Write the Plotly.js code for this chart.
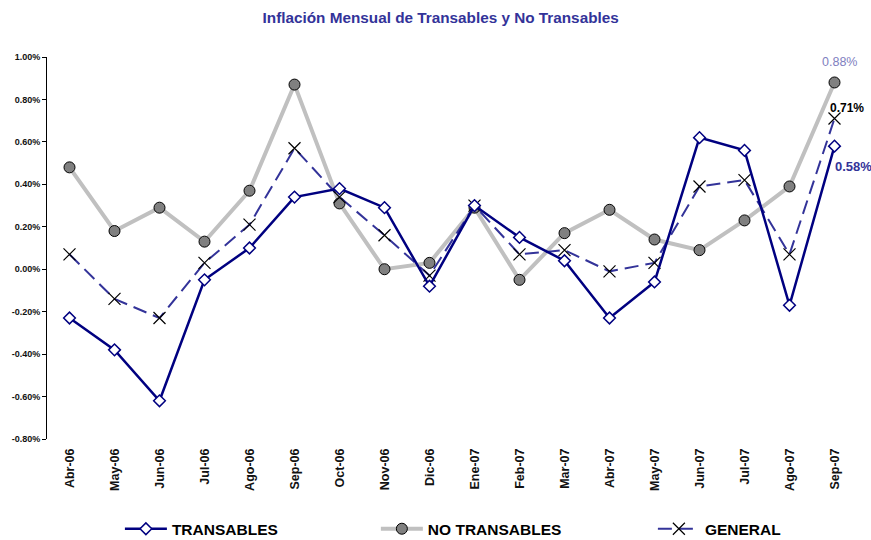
<!DOCTYPE html>
<html>
<head>
<meta charset="utf-8">
<script src="https://cdn.plot.ly/plotly-3.0.1.min.js"></script>
<style>html,body{margin:0;padding:0;background:#fff;}#chart{width:871px;height:540px;}</style>
</head>
<body>
<div id="chart"></div>
<script>
const months = ["Abr-06","May-06","Jun-06","Jul-06","Ago-06","Sep-06","Oct-06","Nov-06","Dic-06","Ene-07","Feb-07","Mar-07","Abr-07","May-07","Jun-07","Jul-07","Ago-07","Sep-07"];
const transables = [-0.23,-0.38,-0.62,-0.05,0.10,0.34,0.38,0.29,-0.08,0.30,0.15,0.04,-0.23,-0.06,0.62,0.56,-0.17,0.58];
const noTransables = [0.48,0.18,0.29,0.13,0.37,0.87,0.31,0.00,0.03,0.29,-0.05,0.17,0.28,0.14,0.09,0.23,0.39,0.88];
const general = [0.07,-0.14,-0.23,0.03,0.21,0.57,0.34,0.16,-0.03,0.30,0.07,0.09,-0.01,0.03,0.39,0.42,0.07,0.71];
const yTicks = [-0.8,-0.6,-0.4,-0.2,0,0.2,0.4,0.6,0.8,1.0];
const boundaries = months.map((m,i)=>i-0.5).concat([months.length-0.5]);

const sans = "Liberation Sans, Arial, sans-serif";
const last = months.length-1;

const traces = [
  {x: months, y: noTransables, name: "NO TRANSABLES", type: "scatter", mode: "lines+markers", legend: "legend2",
   line: {color: "#C0C0C0", width: 4},
   marker: {symbol: "circle", size: 11, color: "#808080", line: {color: "#000000", width: 1}}},
  {x: months, y: general, name: "GENERAL", type: "scatter", mode: "lines+markers", legend: "legend3",
   line: {color: "#333399", width: 2, dash: "14px,7px"},
   marker: {symbol: "x-thin-open", size: 12, color: "#000000", line: {color: "#000000", width: 1.2}}},
  {x: months, y: transables, name: "TRANSABLES", type: "scatter", mode: "lines+markers", legend: "legend",
   line: {color: "#000080", width: 2.5},
   marker: {symbol: "diamond", size: 9, color: "#FFFFFF", line: {color: "#000080", width: 1.5}}}
];

const fmt = v => v.toFixed(2) + "%";
const legendFont = {family: sans, size: 15.5, color: "#000000", weight: "bold"};
const legendBase = {orientation: "h", xanchor: "left", y: -0.236, yanchor: "middle", itemwidth: 42,
                    font: legendFont, bgcolor: "rgba(0,0,0,0)"};

const layout = {
  width: 871, height: 540,
  margin: {l: 47, r: 14, t: 57, b: 101, autoexpand: false},
  paper_bgcolor: "#FFFFFF", plot_bgcolor: "#FFFFFF",
  showlegend: true,
  title: {text: "Inflación Mensual de Transables y No Transables", x: 0.486, xref: "paper", xanchor: "center", y: 0.968, yanchor: "middle",
          font: {family: sans, size: 15.3, color: "#333399", weight: "bold"}},
  xaxis: {type: "category", categoryarray: months, range: [-0.5, months.length-0.5],
          showline: false, ticks: "", showgrid: false, zeroline: false,
          tickangle: -90, ticklabelstandoff: 6,
          tickfont: {family: sans, size: 12.5, color: "#111111", weight: "bold"}},
  xaxis2: {overlaying: "x", anchor: "free", position: 0.8/1.8, side: "bottom",
           range: [-0.5, months.length-0.5], tickvals: boundaries, showticklabels: false,
           ticks: "inside", ticklen: 4, tickcolor: "#000000", tickwidth: 1,
           showline: true, linecolor: "#000000", linewidth: 1, showgrid: false, zeroline: false},
  yaxis: {range: [-0.8, 1.0], tickvals: yTicks, ticktext: yTicks.map(fmt),
          showline: true, linecolor: "#000000", linewidth: 1, ticks: "outside", ticklen: 4, tickcolor: "#000000",
          showgrid: false, zeroline: false,
          tickfont: {family: sans, size: 9, color: "#111111", weight: "bold"}},
  legend: Object.assign({x: 0.09}, legendBase),
  legend2: Object.assign({x: 0.406}, legendBase),
  legend3: Object.assign({x: 0.748}, legendBase),
  annotations: [
    {x: months[last], y: noTransables[last], xref: "x", yref: "y", text: fmt(noTransables[last]), showarrow: false,
     xshift: 5, yshift: 20, font: {family: sans, size: 12.5, color: "#8080C0"}},
    {x: months[last], y: general[last], xref: "x", yref: "y", text: fmt(general[last]), showarrow: false,
     xshift: 12, yshift: 10.5, font: {family: sans, size: 12, color: "#000000", weight: "bold"}},
    {x: months[last], y: transables[last], xref: "x", yref: "y", text: fmt(transables[last]), showarrow: false,
     xanchor: "left", xshift: -2, yshift: -20, font: {family: sans, size: 13, color: "#333399", weight: "bold"}}
  ]
};

Plotly.newPlot("chart", traces, layout, {displayModeBar: false, staticPlot: true});
</script>
</body>
</html>
